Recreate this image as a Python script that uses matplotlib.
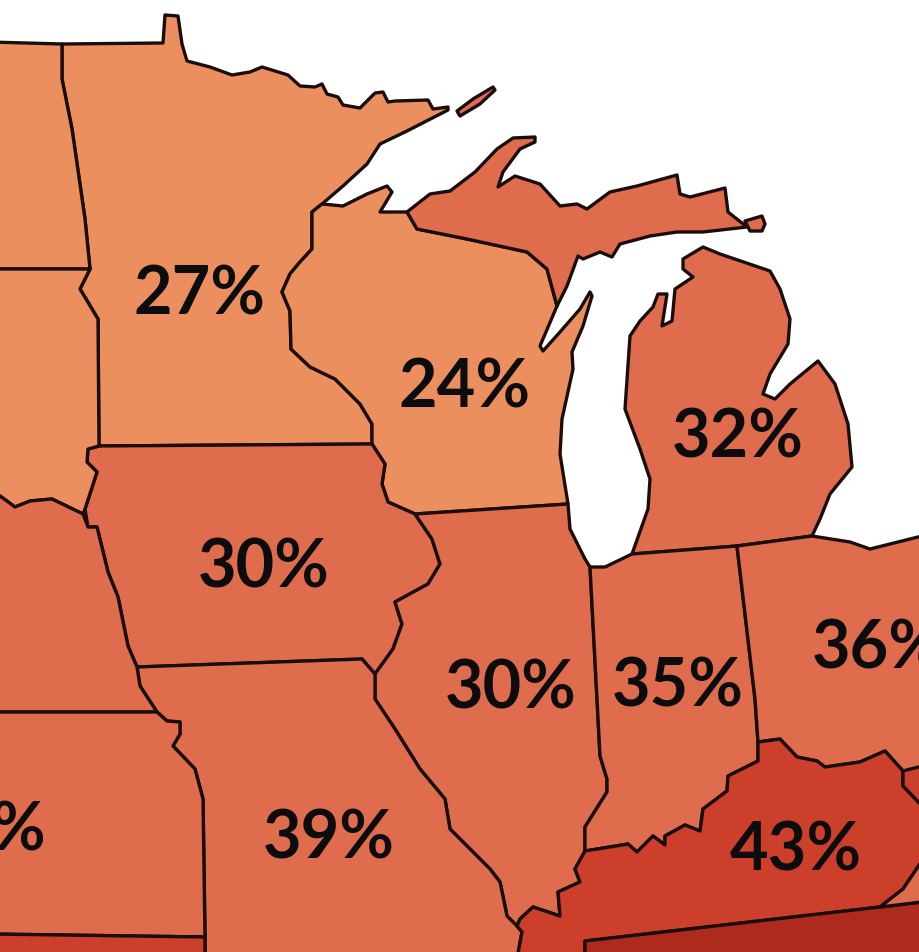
import matplotlib
matplotlib.use("Agg")
import matplotlib.pyplot as plt
from matplotlib.patches import Polygon

# ---- data ----
states = ["Minnesota", "Wisconsin", "Michigan", "Iowa", "Illinois", "Indiana", "Ohio", "Missouri", "Kentucky"]
values = [27, 24, 32, 30, 30, 35, 36, 39, 43]
label_x = [200, 465, 738, 264, 511, 678, 878, 329, 796]
label_y = [296, 389, 439, 569, 690, 688, 650, 840, 852]

LIGHT = "#EC8F5F"
MID = "#E06C4E"
RED = "#CC3F2A"
DARK = "#AE2A1C"

# ---- shared borders (map geometry in image pixels) ----
mn_north = [(62,45),(163,44),(165,16),(178,17),(182,45),(187,62),(210,68),(232,76),(250,73),(262,68),(288,76),(300,87),
            (315,88),(322,85),(327,95),(338,98),(343,106),(360,109),(375,94),(383,93),(388,103),(395,102),(428,101),
            (433,110),(448,108),(448,111),(407,132),(380,145),(367,165),(343,187),(322,205)]
mn_wi = [(322,205),(312,213),(312,250),(300,263),(290,275),(282,293),(290,312),(291,350),(310,368),(335,380),(360,405),(372,425),(372,445)]
ia_north = [(372,445),(99,447),(88,450)]
sd_mn = [(90,270),(80,290),(98,320),(99,447)]
nd_mn = [(62,45),(62,80),(72,130),(85,220),(90,270)]
ia_il = [(372,445),(385,465),(382,485),(388,503),(415,515),(432,540),(440,565),(428,585),(395,603),(402,625),(393,650),(375,675)]
il_mo = [(375,675),(375,700),(395,730),(420,770),(445,800),(450,830),(490,870),(500,883),(507,917),(517,927)]
mo_river = [(97,528),(108,573),(118,598),(128,647),(137,668),(140,687),(157,713),(167,722),(180,723),(180,735),(173,747),(195,770),(203,800),(205,938),(205,960)]
ky_north = [(585,852),(628,845),(637,853),(653,837),(665,846),(665,837),(685,826),(700,832),(703,810),(727,792),(728,777),(758,762)]
oh_ky = [(758,743),(780,740),(797,758),(817,762),(825,768),(860,763),(885,752),(903,772)]
up_wi = [(557,307),(547,270),(527,253),(467,240),(417,230),(407,213)]
il_in = [(590,568),(597,700),(600,757),(607,780),(607,793),(585,828),(585,852)]

shapes = {
    "Minnesota": mn_north + mn_wi + ia_north[:2] + sd_mn[::-1] + nd_mn[::-1],
    "Wisconsin": [(322,205),(343,207),(367,195),(387,187),(392,193),(380,213),(407,213)] + up_wi[::-1] +
                 [(540,347),(543,352),(560,333),(580,310),(590,293),(592,297),(583,327),(572,353),(573,370),(562,420),(560,455),(568,505),(415,515),(388,503),(382,485),(385,465)] + mn_wi[::-1],
    "UP": [(407,213),(430,195),(450,192),(475,173),(497,150),(513,139),(535,138),(535,143),(520,150),(503,173),(498,188),(515,177),
           (540,185),(560,207),(577,205),(587,210),(610,193),(637,187),(677,176),(680,195),(690,198),(725,189),(728,213),(747,228),
           (703,233),(677,233),(650,237),(620,245),(612,258),(600,253),(583,260),(578,257),(567,287)] + up_wi,
    "Michigan": [(630,337),(640,322),(653,308),(658,295),(667,295),(662,327),(672,322),(675,290),(693,278),(683,270),(683,260),(703,248),
                 (720,255),(770,272),(780,290),(790,320),(788,345),(770,375),(763,395),(775,400),(790,385),(818,362),(835,385),(848,425),
                 (852,468),(830,495),(820,520),(812,537),(737,547),(632,555),(648,510),(650,480),(640,450),(625,410)],
    "Iowa": [(88,450),(87,463),(97,473),(85,510),(88,528),(97,528),(108,573),(118,598),(128,647),(137,668),(362,660)] + ia_il[::-1] + ia_north,
    "Illinois": [(415,515),(568,505),(570,530),(585,560)] + il_in + [(575,870),(580,883),(558,893),(560,917),(533,908),(520,920),(517,927)] + il_mo[::-1] + ia_il[4:][::-1],
    "Indiana": [(590,568),(605,568),(632,555),(737,547),(755,700),(758,743),(758,762)] + ky_north[::-1] + il_in[::-1],
    "Ohio": [(737,547),(812,537),(850,543),(870,550),(930,535),(930,765),(920,770)] + oh_ky[::-1] + [(755,700)],
    "Missouri": [(137,668),(362,660),(375,675)] + il_mo + [(522,933),(517,960)] + mo_river[::-1][:11],
    "Kentucky": ky_north + oh_ky + [(903,787),(930,815),(930,850),(903,890),(880,908),(585,942),(585,960),(517,960),(522,933),(517,927),(520,920),(533,908),(560,917),(558,893),(580,883),(575,870)],
    "Tennessee": [(585,942),(880,908),(930,902),(930,960),(585,960)],
    "Virginia": [(903,890),(930,850),(930,902),(880,908)],
    "WestVirginia": [(903,772),(930,765),(930,815),(903,787)],
    "NorthDakota": [(-10,43),(62,45)] + nd_mn[1:] + [(-10,270)],
    "SouthDakota": [(-10,270),(90,270)] + sd_mn[1:] + [(88,450),(87,463),(97,473),(85,510),(83,515),(52,500),(30,502),(15,508),(0,497),(-10,497)],
    "Nebraska": [(-10,497),(0,497),(15,508),(30,502),(52,500),(83,515),(88,528),(97,528),(108,573),(118,598),(128,647),(137,668),(140,687),(157,713),(-10,713)],
    "Kansas": [(-10,713),(157,713),(167,722),(180,723),(180,735),(173,747),(195,770),(203,800),(205,938),(-10,935)],
    "Oklahoma": [(-10,935),(205,938),(205,960),(-10,960)],
    "IsleRoyale": [(457,112),(473,100),(493,88),(495,91),(480,105),(460,117)],
    "Drummond": [(745,222),(762,217),(765,225),(762,232),(750,232)],
}
colours = {"Minnesota": LIGHT, "Wisconsin": LIGHT, "NorthDakota": LIGHT, "SouthDakota": LIGHT,
           "Kentucky": RED, "WestVirginia": RED, "Oklahoma": RED, "Tennessee": DARK, "IsleRoyale": MID,
           "Drummond": MID}

fig = plt.figure(figsize=(9.2, 9.53), dpi=100)
ax = fig.add_axes([0, 0, 1, 1])
ax.set_xlim(0, 920)
ax.set_ylim(953, 0)
ax.axis("off")

for name, pts in shapes.items():
    ax.add_patch(Polygon(pts, closed=True, facecolor=colours.get(name, MID), edgecolor="#1A0E0C",
                         linewidth=2.4, joinstyle="round"))

for v, x, y in zip(values, label_x, label_y):
    ax.text(x, y, f"{v}%", ha="center", va="center", fontsize=48, fontweight="bold",
            family="Lato", color="#0C0C0C", clip_on=True)
ax.text(45, 832, "%", ha="right", va="center", fontsize=48, fontweight="bold",
        family="Lato", color="#0C0C0C", clip_on=True)

fig.savefig("out.png", dpi=100)
